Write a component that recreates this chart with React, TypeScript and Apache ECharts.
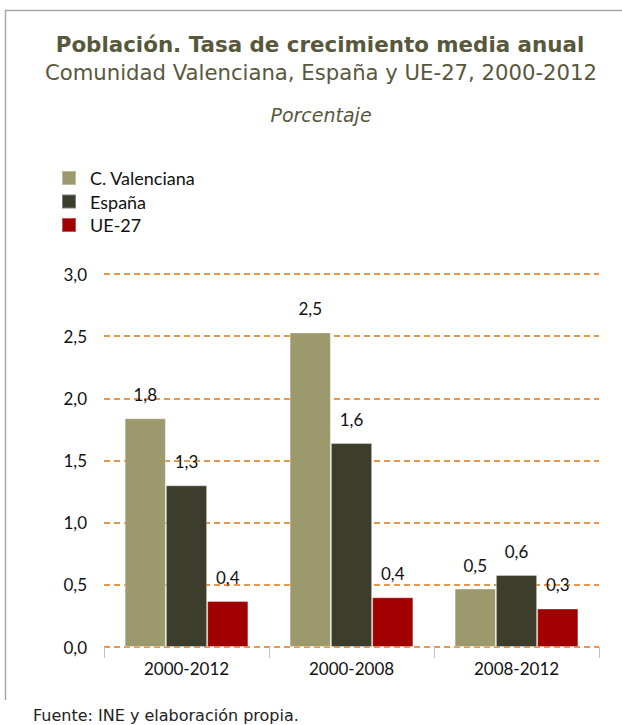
import React, { useEffect, useRef } from "react";
import * as echarts from "echarts";

const categories = ["2000-2012", "2000-2008", "2008-2012"];
const seriesNames = ["C. Valenciana", "España", "UE-27"];
const valenciana = [1.84, 2.53, 0.47];
const espana = [1.3, 1.64, 0.58];
const ue27 = [0.37, 0.4, 0.31];
const yTicks = { min: 0, max: 3, interval: 0.5 };
const titleText = "Población. Tasa de crecimiento media anual";
const subtitleText = "Comunidad Valenciana, España y UE-27, 2000-2012";
const unitText = "Porcentaje";
const sourceText = "Fuente: INE y elaboración propia.";

const colors = ["#9c996c", "#3d3d2c", "#a00000"];
const labelFont = "Lato, 'Open Sans', sans-serif";
const titleFont = "'DejaVu Sans', Verdana, sans-serif";

const fmt = (v: number) => (Math.round(v * 10) / 10).toFixed(1).replace(".", ",");

export default function App() {
  const ref = useRef<HTMLDivElement>(null);
  useEffect(() => {
    document.body.style.margin = "0";
    if (!ref.current) return;
    const chart = echarts.init(ref.current, undefined, { renderer: "svg" });
    const mk = (name: string, data: number[], color: string) => ({
      name,
      type: "bar",
      data,
      barGap: "0%",
      barCategoryGap: "25%",
      itemStyle: { color, borderColor: "rgba(255,255,255,0.35)", borderWidth: 1 },
      label: {
        show: true,
        position: "top",
        distance: 15,
        fontFamily: labelFont,
        fontSize: 17,
        color: "#111",
        formatter: (p: any) => fmt(p.value),
      },
    });
    chart.setOption({
      animation: false,
      backgroundColor: "#fff",
      graphic: [
        { type: "line", shape: { x1: 5, y1: 10.5, x2: 622, y2: 10.5 }, style: { stroke: "#a6a6a6", lineWidth: 1.5 } },
        { type: "line", shape: { x1: 5.5, y1: 10, x2: 5.5, y2: 700 }, style: { stroke: "#a6a6a6", lineWidth: 1.5 } },
        {
          type: "text", x: 320, y: 44,
          style: { text: titleText, font: `bold 21.4px ${titleFont}`, fill: "#58583c", align: "center", verticalAlign: "middle" },
        },
        {
          type: "text", x: 321, y: 72,
          style: { text: subtitleText, font: `21.2px ${titleFont}`, fill: "#58583c", align: "center", verticalAlign: "middle" },
        },
        {
          type: "text", x: 321, y: 115,
          style: { text: unitText, font: `italic 19px ${titleFont}`, fill: "#58583c", align: "center", verticalAlign: "middle" },
        },
        {
          type: "text", x: 33, y: 715,
          style: { text: sourceText, font: `16px ${titleFont}`, fill: "#222", align: "left", verticalAlign: "middle" },
        },
      ],
      legend: {
        orient: "vertical",
        left: 61,
        top: 169,
        padding: 0,
        itemWidth: 14,
        itemHeight: 14,
        itemGap: 5.5,
        icon: "rect",
        data: seriesNames,
        textStyle: { fontFamily: labelFont, fontSize: 18, color: "#111", padding: [0, 0, 0, 9] },
      },
      grid: { left: 104, right: 23, top: 274, bottom: 78, containLabel: false },
      xAxis: {
        type: "category",
        data: categories,
        axisLine: { show: false },
        axisTick: { show: true, length: 11, lineStyle: { color: "#c0c0c0", width: 1 } },
        axisLabel: { fontFamily: labelFont, fontSize: 17, color: "#111", margin: 13 },
      },
      yAxis: {
        type: "value",
        min: yTicks.min,
        max: yTicks.max,
        interval: yTicks.interval,
        axisLine: { show: false },
        axisTick: { show: false },
        axisLabel: {
          fontFamily: labelFont, fontSize: 17, color: "#111", margin: 17,
          formatter: (v: number) => v.toFixed(1).replace(".", ","),
        },
        splitLine: { show: true, lineStyle: { color: "#e8974a", width: 2, type: [6, 4] } },
      },
      series: [
        mk(seriesNames[0], valenciana, colors[0]),
        mk(seriesNames[1], espana, colors[1]),
        mk(seriesNames[2], ue27, colors[2]),
      ],
    });
    return () => chart.dispose();
  }, []);
  return <div ref={ref} style={{ width: 622, height: 725 }} />;
}
